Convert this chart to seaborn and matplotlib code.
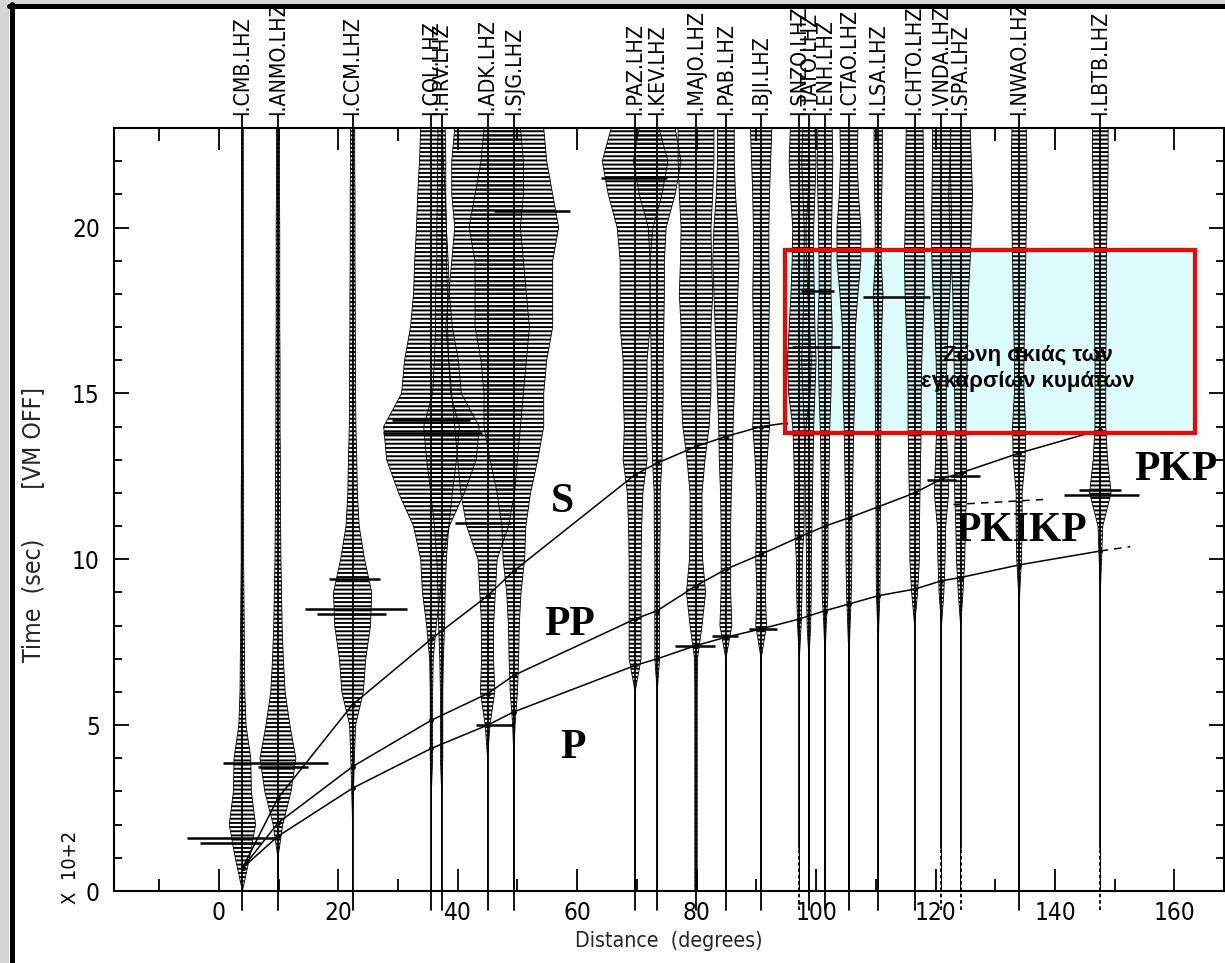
import numpy as np
import pandas as pd
import matplotlib
matplotlib.use("Agg")
import matplotlib.pyplot as plt
import seaborn as sns
from matplotlib import font_manager
from matplotlib.patches import Rectangle
from matplotlib.lines import Line2D

# ---------------------------------------------------------------- data
stations = ["I.CMB.LHZ", "I.ANMO.LHZ", "I.CCM.LHZ", "I.COL.LHZ", "I.HRV.LHZ",
            "I.ADK.LHZ", "I.SJG.LHZ", "I.PAZ.LHZ", "I.KEV.LHZ", "I.MAJO.LHZ",
            "I.PAB.LHZ", "I.BJI.LHZ", "I.SNZO.LHZ", "I.TATO.LHZ", "I.ENH.LHZ",
            "I.CTAO.LHZ", "I.LSA.LHZ", "I.CHTO.LHZ", "I.VNDA.LHZ", "I.SPA.LHZ",
            "I.NWAO.LHZ", "I.LBTB.LHZ"]
distances = [3.95, 9.9, 22.4, 35.6, 37.3, 45.0, 49.4, 69.7, 73.4, 79.9, 84.9,
             90.8, 97.2, 98.8, 101.5, 105.5, 110.4, 116.5, 121.0, 124.2, 134.0, 147.6]
dashed_base = ["I.SNZO.LHZ", "I.VNDA.LHZ", "I.SPA.LHZ", "I.LBTB.LHZ"]

# trace envelope half-width (degrees) at times 0,1,...,23 (x100 s)
times = list(range(24))
amp_CMB  = [0, 1.2, 2.2, 1.5, 1.4, 0.6, 0.4, 0.35, 0.3, 0.25, 0.2, 0.2, 0.2, 0.15, 0.15, 0.15, 0.15, 0.15, 0.15, 0.15, 0.15, 0.15, 0.15, 0.15]
amp_ANMO = [0, 0, 0.8, 2.2, 3.0, 2.0, 1.2, 0.9, 0.7, 0.6, 0.5, 0.45, 0.4, 0.4, 0.35, 0.35, 0.35, 0.3, 0.3, 0.3, 0.3, 0.25, 0.25, 0.25]
amp_CCM  = [0, 0, 0, 0.15, 0.3, 0.5, 1.8, 2.2, 3.0, 3.2, 2.0, 1.1, 0.8, 0.7, 0.55, 0.5, 0.5, 0.45, 0.45, 0.4, 0.4, 0.4, 0.35, 0.35]
amp_COL  = [0, 0, 0, 0, 0.2, 0.2, 0.2, 0.3, 0.8, 1.5, 1.8, 3.0, 5.5, 7.5, 8.0, 5.0, 4.5, 3.5, 3.0, 2.8, 2.5, 2.3, 2.0, 1.8]
amp_HRV  = [0, 0, 0, 0, 0.2, 0.2, 0.2, 0.3, 0.5, 0.6, 0.8, 1.2, 1.8, 2.5, 3.0, 1.5, 1.2, 1.0, 1.0, 0.8, 0.8, 0.7, 0.7, 0.6]
amp_ADK  = [0, 0, 0, 0, 0, 0.4, 1.2, 1.0, 1.0, 1.3, 1.6, 3.5, 4.5, 5.0, 5.5, 6.0, 6.5, 7.0, 6.5, 6.0, 5.5, 6.0, 6.0, 5.5]
amp_SJG  = [0, 0, 0, 0, 0, 0.2, 0.6, 0.8, 0.9, 1.2, 1.8, 2.0, 2.8, 4.0, 5.0, 5.0, 5.5, 6.5, 6.5, 6.5, 7.5, 6.5, 5.5, 5.0]
amp_PAZ  = [0, 0, 0, 0, 0, 0, 0, 1.0, 1.0, 1.0, 1.0, 1.1, 1.3, 2.0, 1.8, 2.0, 2.0, 2.5, 2.5, 2.5, 3.0, 4.5, 5.5, 4.0]
amp_KEV  = [0, 0, 0, 0, 0, 0, 0, 0.4, 0.4, 0.4, 0.4, 0.5, 0.5, 0.8, 0.9, 1.0, 1.0, 1.1, 1.2, 1.2, 1.5, 3.0, 4.0, 3.0]
amp_MAJO = [0.2, 0.2, 0.2, 0.2, 0.2, 0.2, 0.2, 0.25, 1.0, 1.6, 1.1, 1.0, 1.0, 1.5, 2.2, 2.5, 2.5, 2.5, 2.8, 2.6, 2.5, 2.8, 3.0, 3.0]
amp_PAB  = [0, 0, 0, 0, 0, 0, 0, 0, 1.0, 0.8, 0.8, 0.8, 0.9, 1.1, 1.2, 1.4, 1.6, 1.8, 2.0, 2.2, 2.0, 1.6, 1.4, 1.4]
amp_BJI  = [0, 0, 0, 0, 0, 0, 0, 0, 0.9, 0.7, 0.9, 0.8, 0.8, 1.0, 1.4, 1.2, 1.2, 1.3, 1.4, 1.3, 1.3, 1.4, 1.6, 1.8]
amp_SNZO = [0, 0, 0, 0, 0, 0, 0, 0, 0.3, 0.45, 0.5, 0.8, 0.8, 0.9, 1.1, 1.8, 2.0, 1.7, 1.4, 1.2, 1.1, 1.5, 1.7, 1.5]
amp_TATO = [0, 0, 0, 0, 0, 0, 0, 0, 0.3, 0.4, 0.4, 0.5, 0.6, 0.7, 0.8, 1.0, 1.2, 1.0, 0.9, 0.8, 0.8, 1.0, 1.2, 1.0]
amp_ENH  = [0, 0, 0, 0, 0, 0, 0, 0, 0.2, 0.5, 0.5, 0.5, 0.6, 0.7, 0.8, 1.0, 1.1, 1.2, 1.0, 1.0, 1.1, 1.2, 1.3, 1.2]
amp_CTAO = [0, 0, 0, 0, 0, 0, 0, 0, 0.2, 0.4, 0.5, 0.5, 0.6, 0.7, 0.8, 1.0, 1.0, 1.1, 1.5, 2.0, 2.0, 1.6, 1.4, 1.5]
amp_LSA  = [0, 0, 0, 0, 0, 0, 0, 0, 0.1, 0.3, 0.35, 0.35, 0.4, 0.4, 0.45, 0.5, 0.5, 0.6, 0.8, 0.5, 0.5, 0.6, 0.7, 0.7]
amp_CHTO = [0, 0, 0, 0, 0, 0, 0, 0, 0, 0.5, 0.8, 0.8, 0.9, 1.0, 1.1, 1.1, 1.2, 1.4, 1.6, 1.7, 1.6, 1.5, 1.5, 1.4]
amp_VNDA = [0, 0, 0, 0, 0, 0, 0, 0, 0, 0.4, 0.6, 0.7, 1.2, 1.0, 0.8, 0.8, 0.9, 1.1, 1.4, 1.6, 1.7, 1.6, 1.5, 1.5]
amp_SPA  = [0, 0, 0, 0, 0, 0, 0, 0, 0, 0.4, 0.7, 0.8, 1.0, 1.0, 0.9, 1.0, 1.1, 1.2, 1.3, 1.6, 1.8, 2.0, 1.8, 1.6]
amp_NWAO = [0, 0, 0, 0, 0, 0, 0, 0, 0, 0.1, 0.4, 0.5, 0.5, 1.0, 1.1, 0.8, 0.8, 0.9, 1.0, 1.1, 1.2, 1.3, 1.3, 1.2]
amp_LBTB = [0, 0, 0, 0, 0, 0, 0, 0, 0, 0, 0.2, 0.4, 1.8, 1.2, 0.9, 0.9, 0.9, 1.0, 1.0, 1.0, 1.1, 1.2, 1.3, 1.3]
envelopes = [amp_CMB, amp_ANMO, amp_CCM, amp_COL, amp_HRV, amp_ADK, amp_SJG,
             amp_PAZ, amp_KEV, amp_MAJO, amp_PAB, amp_BJI, amp_SNZO, amp_TATO,
             amp_ENH, amp_CTAO, amp_LSA, amp_CHTO, amp_VNDA, amp_SPA, amp_NWAO, amp_LBTB]

# large single swings (time, left end, right end in degrees)
spike_time  = [1.6, 1.45, 3.87, 3.75, 8.5, 8.35, 9.4, 13.8, 14.2, 5.0, 11.1, 20.5,
               21.5, 7.4, 7.7, 7.9, 18.1, 16.4, 17.9, 12.4, 12.5, 11.95, 12.1]
spike_left  = [-5.4, -3.1, 0.7, 6.5, 14.5, 16.5, 18.5, 27.5, 29.0, 43.0, 39.5, 46.0,
               64.0, 76.3, 82.5, 88.8, 97.5, 96.0, 107.8, 118.5, 122.5, 141.5, 144.0]
spike_right = [9.7, 7.0, 18.3, 15.0, 31.5, 28.0, 27.0, 44.0, 42.0, 49.4, 49.0, 58.8,
               75.0, 83.0, 87.0, 93.5, 103.0, 104.0, 119.0, 123.5, 127.5, 154.0, 151.0]

# travel-time curves (distance in degrees, time in 100 s)
p_dist  = [4.0, 9.9, 22.4, 35.6, 45.0, 49.4, 69.7, 73.4, 79.9, 84.9, 90.8, 97.2,
           101.5, 105.5, 110.4, 116.5, 121.0, 124.2, 134.0, 147.6]
p_time  = [0.7, 1.65, 3.1, 4.3, 5.0, 5.4, 6.8, 7.0, 7.4, 7.65, 7.9, 8.2,
           8.45, 8.65, 8.9, 9.1, 9.35, 9.45, 9.83, 10.25]
pp_dist = [4.0, 9.9, 22.4, 35.6, 45.0, 49.4, 69.7, 73.4, 79.9, 84.9, 90.8, 97.2,
           101.5, 105.5, 110.4, 116.5, 121.0, 124.2, 134.0, 147.6]
pp_time = [0.7, 2.05, 3.75, 5.15, 5.95, 6.5, 8.2, 8.45, 9.2, 9.7, 10.15, 10.67,
           11.0, 11.25, 11.58, 12.0, 12.42, 12.6, 13.2, 13.9]
s_dist  = [4.0, 9.9, 22.4, 35.6, 45.0, 49.4, 69.7, 73.4, 79.9, 84.9, 90.8, 94.8]
s_time  = [0.7, 2.8, 5.62, 7.6, 8.9, 9.65, 12.55, 12.9, 13.4, 13.7, 14.0, 14.1]
p_ext_dist = [147.6, 152.6]
p_ext_time = [10.25, 10.38]
pkikp_dist = [123.0, 138.0]
pkikp_time = [11.65, 11.8]

phase_names = ["S", "PP", "P", "PKIKP", "PKP"]
xtick_values = [0, 20, 40, 60, 80, 100, 120, 140, 160]
ytick_values = [0, 5, 10, 15, 20]
shadow_dist = [94.8, 163.5]
shadow_time = [13.82, 19.32]
shadow_text = "Ζώνη σκιάς των\nεγκαρσίων κυμάτων"

# ---------------------------------------------------------------- style
sns.set_theme(style="white")
fm = font_manager.fontManager
names = {f.name for f in fm.ttflist}
if "Liberation Sans Narrow" in names:
    NARROW_FAMILY, NARROW_STRETCH, k = "Liberation Sans Narrow", "normal", 1.0
elif any(f.name == "DejaVu Sans" and "condensed" in str(f.stretch).lower() for f in fm.ttflist):
    NARROW_FAMILY, NARROW_STRETCH, k = "DejaVu Sans", "condensed", 0.85
else:
    NARROW_FAMILY, NARROW_STRETCH, k = "DejaVu Sans", "normal", 0.78
plt.rcParams["font.family"] = [NARROW_FAMILY, "DejaVu Sans"]
plt.rcParams["font.stretch"] = NARROW_STRETCH
plt.rcParams["hatch.linewidth"] = 1.4
plt.rcParams["text.color"] = "black"

W, H = 1225, 963
fig = plt.figure(figsize=(W / 100, H / 100), dpi=100)
fig.patch.set_facecolor("#D6D6D6")
fig.add_artist(Rectangle((9 / W, -0.1), 2, (H - 4) / H + 0.1, transform=fig.transFigure,
                         facecolor="white", edgecolor="none", zorder=-10))
ax = fig.add_axes([113.7 / W, (H - 891) / H, (1224 - 113.7) / W, (891 - 128) / H])
ax.set_facecolor("white")

# shadow-zone box (fill under traces)
ax.add_patch(Rectangle((shadow_dist[0], shadow_time[0]), shadow_dist[1] - shadow_dist[0],
                       shadow_time[1] - shadow_time[0], facecolor="#DDFDFD",
                       edgecolor="none", zorder=1))

# traces
for name, d, amp in zip(stations, distances, envelopes):
    a = np.asarray(amp, dtype=float)
    ax.fill_betweenx(times, d - a, d + a, facecolor="none", edgecolor="black",
                     linewidth=0.6, hatch="----", zorder=2)
    if name in dashed_base:
        ax.plot([d, d], [1.3, 23.4], color="black", lw=1.3, clip_on=False, zorder=3)
        ax.plot([d, d], [-0.57, 1.3], color="black", lw=1.3, ls=(0, (2, 1.5)),
                clip_on=False, zorder=3)
    else:
        ax.plot([d, d], [-0.57, 23.4], color="black", lw=1.3, clip_on=False, zorder=3)
    ax.text(d, 23.4, name, rotation=90, ha="center", va="bottom",
            fontsize=18 * k, clip_on=False, zorder=3)

ax.hlines(spike_time, spike_left, spike_right, color="black", lw=1.8, zorder=3)

# travel-time curves
curves = pd.concat([
    pd.DataFrame({"phase": "P", "dist": p_dist, "time": p_time}),
    pd.DataFrame({"phase": "PP", "dist": pp_dist, "time": pp_time}),
    pd.DataFrame({"phase": "S", "dist": s_dist, "time": s_time}),
], ignore_index=True)
sns.lineplot(data=curves, x="dist", y="time", units="phase", estimator=None,
             sort=False, color="black", linewidth=1.1, marker="o", markersize=3.5,
             markeredgewidth=0, legend=False, ax=ax, zorder=4)
dashed = pd.concat([
    pd.DataFrame({"phase": "Pext", "dist": p_ext_dist, "time": p_ext_time}),
    pd.DataFrame({"phase": "PKIKP", "dist": pkikp_dist, "time": pkikp_time}),
], ignore_index=True)
sns.lineplot(data=dashed, x="dist", y="time", units="phase", estimator=None,
             sort=False, color="black", linewidth=1.1, dashes=False, legend=False,
             ax=ax, zorder=4, linestyle=(0, (5, 4)))

# phase labels
label_pos = [(57.6, 11.73), (58.8, 8.02), (59.3, 4.31), (134.4, 10.85), (160.2, 12.69)]
for txt, (x, y) in zip(phase_names, label_pos):
    ax.text(x, y, txt, ha="center", va="center", fontsize=30, fontweight="bold",
            family=["Liberation Serif", "DejaVu Serif"], zorder=5)

# shadow-zone outline + text
ax.add_patch(Rectangle((shadow_dist[0], shadow_time[0]), shadow_dist[1] - shadow_dist[0],
                       shadow_time[1] - shadow_time[0], facecolor="none",
                       edgecolor="#FF0000", linewidth=3, zorder=6))
ax.text(135.4, 15.75, shadow_text, ha="center", va="center", fontsize=16,
        fontweight="bold", family=["Liberation Sans", "DejaVu Sans"],
        linespacing=1.3, zorder=7)

# axes
ax.set_xlim(-17.6, 168.3)
ax.set_ylim(0, 23.0)
ax.set_xticks(xtick_values)
ax.set_xticklabels([str(v) for v in xtick_values])
ax.set_xticks(np.arange(-10, 170, 10), minor=True)
ax.set_yticks(ytick_values)
ax.set_yticklabels([str(v) for v in ytick_values])
ax.set_yticks(np.arange(0, 24, 1), minor=True)
ax.tick_params(which="both", direction="in", top=True, right=True, bottom=True,
               left=True, color="black", width=1.3, labelcolor="black")
ax.tick_params(axis="x", which="major", length=16, labelsize=20.5 * k, pad=7)
ax.tick_params(axis="x", which="minor", length=9)
ax.tick_params(axis="y", which="major", length=11, labelsize=20.5 * k, pad=10)
ax.tick_params(axis="y", which="minor", length=6)
for sp in ax.spines.values():
    sp.set_color("black")
    sp.set_linewidth(1.5)
ax.grid(False)

ax.set_xlabel("Distance  (degrees)", fontsize=18 * k)
ax.xaxis.set_label_coords(0.5, -0.052)
ax.set_ylabel("Time  (sec)       [VM OFF]", fontsize=21 * k)
ax.yaxis.set_label_coords(-0.062, 0.48)
ax.text(-0.039, 0.031, "X  10+2", transform=ax.transAxes, rotation=90,
        ha="center", va="center", fontsize=17 * k)

# outer frame
fig.add_artist(Rectangle((0, (H - 4) / H), 1, 4 / H, transform=fig.transFigure,
                         facecolor="#D6D6D6", edgecolor="none", zorder=19))
fig.add_artist(Line2D([9 / W, 1], [(H - 6.5) / H] * 2, transform=fig.transFigure,
                      color="black", lw=3.6, zorder=20))
fig.add_artist(Line2D([11.5 / W] * 2, [0, (H - 4) / H], transform=fig.transFigure,
                      color="black", lw=3.6, zorder=20))

fig.savefig("out.png", dpi=100, facecolor=fig.get_facecolor())
